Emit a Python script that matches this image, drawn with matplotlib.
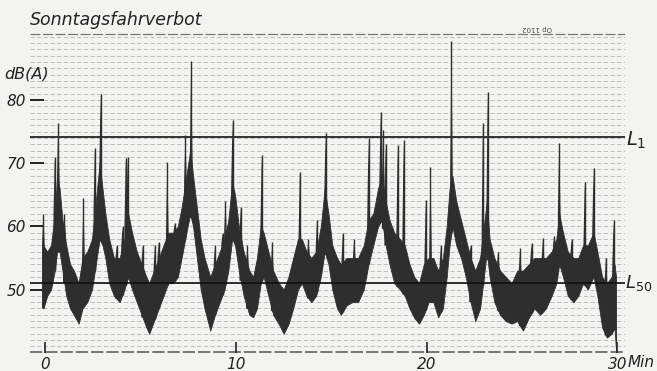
import numpy as np
import matplotlib
matplotlib.use('Agg')
import matplotlib.pyplot as plt


# body of the level trace (min/max of the dense scribble)
t_min = [
    -0.10, 0.10, 0.30, 0.50, 0.62, 0.75, 0.90, 1.10, 1.30, 1.50, 1.75, 1.95, 2.20, 2.45, 2.65,
    2.85, 3.00, 3.15, 3.35, 3.60, 3.90, 4.15, 4.35, 4.55, 4.80, 5.05, 5.30, 5.45, 5.70, 5.95,
    6.20, 6.45, 6.70, 6.95, 7.15, 7.40, 7.60, 7.75, 7.95, 8.15, 8.35, 8.65, 8.90, 9.15, 9.40,
    9.60, 9.80, 9.95, 10.15, 10.40, 10.70, 10.90, 11.10, 11.30, 11.45, 11.70, 11.95, 12.25, 12.50, 12.75,
    13.00, 13.25, 13.45, 13.70, 13.95, 14.20, 14.45, 14.65, 14.85, 15.05, 15.30, 15.50, 15.80, 16.10, 16.40,
    16.70, 16.95, 17.20, 17.45, 17.65, 17.85, 18.05, 18.30, 18.60, 18.85, 19.10, 19.35, 19.60, 19.85, 20.10,
    20.35, 20.60, 20.85, 21.05, 21.20, 21.35, 21.55, 21.80, 22.05, 22.30, 22.55, 22.80, 23.00, 23.15, 23.30,
    23.55, 23.85, 24.15, 24.45, 24.75, 25.05, 25.35, 25.65, 25.95, 26.25, 26.55, 26.80, 26.95, 27.15, 27.40,
    27.70, 27.95, 28.20, 28.45, 28.75, 28.95, 29.20, 29.45, 29.70, 29.85, 29.93,
]
upper_db = [
    57, 56, 57, 62, 68, 66, 61, 57, 54, 53, 51, 55, 56, 58, 64,
    70, 66, 62, 58, 55, 55, 58, 62, 59, 56, 54, 52, 51, 53, 55,
    57, 59, 59, 60, 63, 68, 72, 68, 63, 58, 55, 52, 54, 56, 58,
    61, 67, 65, 60, 56, 53, 52, 55, 60, 59, 56, 53, 51, 50, 52,
    55, 58, 58, 56, 55, 56, 60, 66, 62, 57, 55, 54, 55, 55, 55,
    57, 61, 62, 66, 68, 64, 61, 59, 58, 57, 54, 52, 51, 54, 55,
    55, 53, 55, 60, 66, 68, 64, 61, 58, 55, 53, 55, 60, 64, 58,
    55, 53, 52, 51, 53, 53, 54, 55, 55, 55, 56, 58, 62, 59, 56,
    55, 55, 57, 57, 59, 56, 52, 51, 52, 54, 52,
]
lower_db = [
    47, 49, 50, 53, 56, 56, 53, 49, 47, 46, 44.6, 47, 48, 50, 54,
    58, 57, 55, 51, 49, 48, 50, 52, 50, 48, 46, 44, 43, 45, 47,
    49, 51, 51, 52, 55, 59, 62, 60, 55, 50, 47, 43.5, 46, 48, 50,
    53, 58, 57, 53, 49, 46, 45.6, 47, 51, 52, 49, 46, 44.5, 43, 44.5,
    47, 50, 51, 49, 48, 49, 52, 56, 54, 50, 47, 46, 47.5, 48, 48,
    50, 54, 57, 60, 61, 57, 54, 51, 50, 49, 47, 45.5, 44.6, 46, 48,
    48, 45.6, 47, 52, 57, 60, 57, 55, 52, 48, 45, 47, 52, 56, 52,
    48, 46, 45, 44.6, 45, 43.5, 45.5, 47, 46, 47, 49, 51, 54, 52, 49,
    48, 49, 51, 50, 52, 49, 44, 42.4, 43, 44, 40.3,
]

# narrow peaks of passing vehicles
spike_t = [
    -0.10, 0.50, 0.68, 1.00, 2.00, 2.60, 2.90, 3.75, 4.05, 4.22, 4.32, 5.10, 5.75, 5.95, 6.40,
    6.80, 7.35, 7.65, 8.90, 9.30, 9.45, 9.82, 10.25, 10.60, 11.35, 11.90, 13.35, 13.80, 14.25, 14.70,
    15.60, 16.20, 16.95, 17.59, 17.72, 17.85, 18.48, 18.79, 19.95, 20.20, 20.75, 21.30, 22.30, 22.95, 23.20,
    23.75, 24.90, 25.50, 26.10, 26.70, 26.95, 27.60, 28.29, 28.75, 29.40, 29.80,
]
spike_db = [
    62.0, 71.0, 76.3, 62.0, 64.5, 72.4, 81.0, 57.0, 60.0, 70.8, 71.0, 57.0, 57.0, 57.5, 70.2,
    60.5, 74.4, 86.1, 57.0, 59.0, 64.0, 76.8, 63.0, 57.0, 71.3, 57.5, 68.6, 58.0, 61.0, 74.8,
    59.0, 58.0, 74.0, 78.1, 75.2, 73.1, 72.9, 73.7, 64.1, 69.4, 57.0, 89.3, 57.0, 76.3, 81.3,
    56.0, 56.5, 57.3, 58.2, 58.5, 73.2, 58.0, 67.0, 69.2, 55.0, 61.0,
]

L1_DB = 74.1
L50_DB = 51.0
Y_TICKS = [50, 60, 70, 80]
X_TICKS = [0, 10, 20, 30]

INK = '#2e2e2e'
PAPER = '#f3f3f1'
SPIKE_HALF_WIDTH = 0.07  # minutes


def main():
    plt.rcParams['mathtext.fontset'] = 'dejavusans'
    fig = plt.figure(figsize=(6.57, 3.71), dpi=100, facecolor=PAPER)
    ax = fig.add_axes([0.0457, 0.0493, 0.9056, 0.8617])
    ax.set_facecolor(PAPER)
    ax.set_xlim(-0.8, 30.4)
    ax.set_ylim(40, 90.6)

    # recorder paper: fine dashed lines every dB
    ax.hlines(np.arange(41, 91, 1), -0.8, 30.4, colors='#b4b4b4',
              linestyles=(0, (5, 3)), linewidth=0.6, zorder=1)
    ax.hlines([90.5], -0.8, 30.4, colors='#777777', linestyles=(0, (8, 2)),
              linewidth=0.9, zorder=1)
    ax.hlines([40.15], -0.8, 30.4, colors='#555555', linestyles=(0, (8, 2)),
              linewidth=1.1, zorder=1)

    ax.fill_between(t_min, lower_db, upper_db, color=INK, linewidth=0.6,
                    edgecolor=INK, zorder=3)

    # each peak: thin line on top of a tapering wedge rising from the trace body
    base_lo = np.interp(spike_t, t_min, lower_db)
    base_hi = np.interp(spike_t, t_min, upper_db)
    ax.vlines(spike_t, base_lo, spike_db, colors=INK, linewidth=1.0, zorder=3)
    for t, lo, hi, top in zip(spike_t, base_lo, base_hi, spike_db):
        w = SPIKE_HALF_WIDTH
        ax.fill([t - w, t, t + w, t + w, t - w], [hi, top, hi, lo, lo],
                color=INK, linewidth=0, zorder=3)

    ax.axhline(L1_DB, color='#111111', linewidth=1.2, zorder=2)
    ax.axhline(L50_DB, color='#111111', linewidth=1.2, zorder=4)

    for s in ax.spines.values():
        s.set_visible(False)

    ax.set_yticks(Y_TICKS)
    ax.set_yticklabels([str(v) for v in Y_TICKS])
    ax.set_xticks(X_TICKS)
    ax.set_xticklabels([str(v) for v in X_TICKS])
    ax.tick_params(axis='y', direction='in', length=10, width=1.4, pad=3,
                   labelsize=11, colors='#222222')
    ax.tick_params(axis='x', direction='in', length=8, width=1.2, pad=3,
                   labelsize=11, colors='#222222')
    for lab in ax.get_xticklabels() + ax.get_yticklabels():
        lab.set_fontstyle('italic')

    fig.text(0.046, 0.945, 'Sonntagsfahrverbot', fontsize=12.5, style='italic',
             color='#222222', va='center', ha='left')
    fig.text(0.006, 0.80, 'dB(A)', fontsize=11.5, style='italic',
             color='#222222', va='center', ha='left')
    fig.text(0.955, 0.024, 'Min', fontsize=11, style='italic',
             color='#222222', va='center', ha='left')
    fig.text(0.818, 0.925, 'Op 1102', fontsize=5, rotation=180,
             color='#444444', va='center', ha='center')

    fig.text(0.953, 0.622, r'$\mathit{L}_{\mathit{1}}$', fontsize=14,
             color='#222222', va='center', ha='left')
    fig.text(0.952, 0.237, r'$\mathit{L}_{\mathit{50}}$', fontsize=13,
             color='#222222', va='center', ha='left')

    fig.savefig('out.png', dpi=100, facecolor=PAPER)


if __name__ == '__main__':
    main()
